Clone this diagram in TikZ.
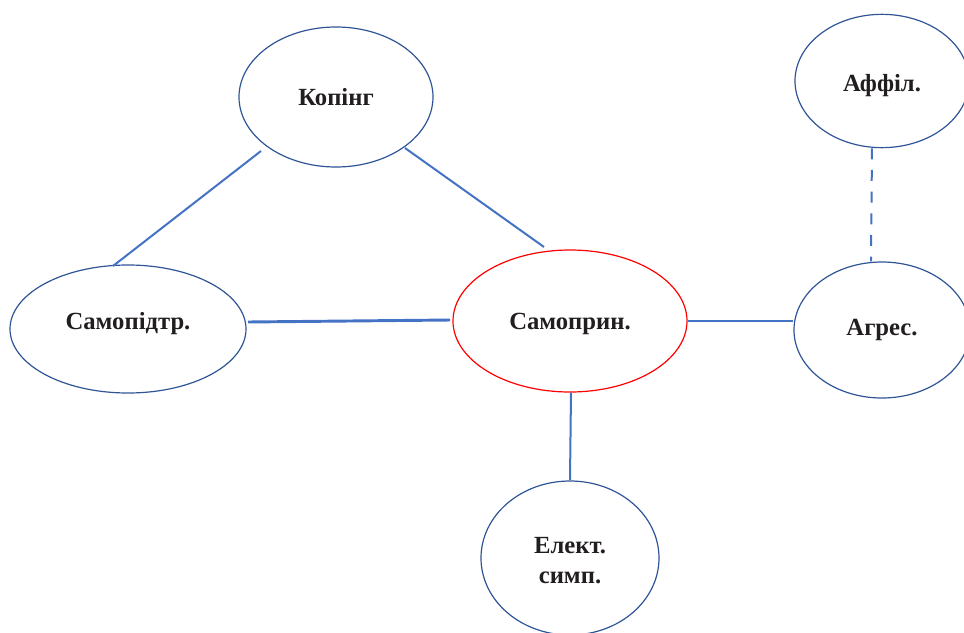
\documentclass[tikz,border=0pt]{standalone}
\usepackage{fontspec}
\usetikzlibrary{shapes.geometric}
\setmainfont{Liberation Serif}
\definecolor{ellblue}{RGB}{47,85,151}
\definecolor{lineblue}{RGB}{68,114,196}
\definecolor{txt}{RGB}{34,30,31}
\newcommand{\mylbl}[2]{\raisebox{#1}[0pt][0pt]{#2}}
\begin{document}
\begin{tikzpicture}[x=0.75pt,y=-0.75pt,
  bubble/.style={ellipse,draw=ellblue,line width=0.9pt,inner sep=0pt,
    font=\bfseries\fontsize{18.5}{22.5}\selectfont,text=txt,align=center},
  link/.style={draw=lineblue,line width=1.5pt}]
\useasboundingbox (0,0) rectangle (964,632);
\begin{scope}
\clip (0,0) rectangle (964,632);
\node[bubble,minimum width=145.5pt,minimum height=105pt] (kop) at (336,97) {\mylbl{-6pt}{Копінг}};
\node[bubble,minimum width=130.5pt,minimum height=100pt] (aff) at (882,81) {\mylbl{-7.9pt}{Аффіл.}};
\node[bubble,minimum width=177pt,minimum height=96pt] (sam) at (128,329) {\mylbl{0pt}{Самопідтр.}};
\node[bubble,draw=red,minimum width=175.5pt,minimum height=106.5pt] (prin) at (570,321) {\mylbl{-6pt}{Самоприн.}};
\node[bubble,minimum width=132pt,minimum height=102pt] (agr) at (882,330) {\mylbl{-3.75pt}{Агрес.}};
\node[bubble,minimum width=133.5pt,minimum height=115.5pt] (el) at (570,558) {\mylbl{-18.75pt}{\begin{tabular}[b]{@{}c@{}}Елект.\\симп.\end{tabular}}};
\end{scope}
\draw[link] ([shift={(-75,54)}]kop.center) -- ([shift={(-15,-63)}]sam.center);
\draw[link] ([shift={(69,51)}]kop.center) -- ([shift={(-26,-74)}]prin.center);
\draw[link,line width=2.2pt] ([shift={(120,-7)}]sam.center) -- ([shift={(-120,-1)}]prin.center);
\draw[link] (prin.east) -- ([shift={(0,-9)}]agr.west);
\draw[link] ([shift={(1,0)}]prin.south) -- ([shift={(0,-0.5)}]el.north);
\draw[link,dash pattern=on 8.25pt off 8pt] ([shift={(-10,0)}]aff.south) -- ([shift={(-11,0)}]agr.north);
\end{tikzpicture}
\end{document}
